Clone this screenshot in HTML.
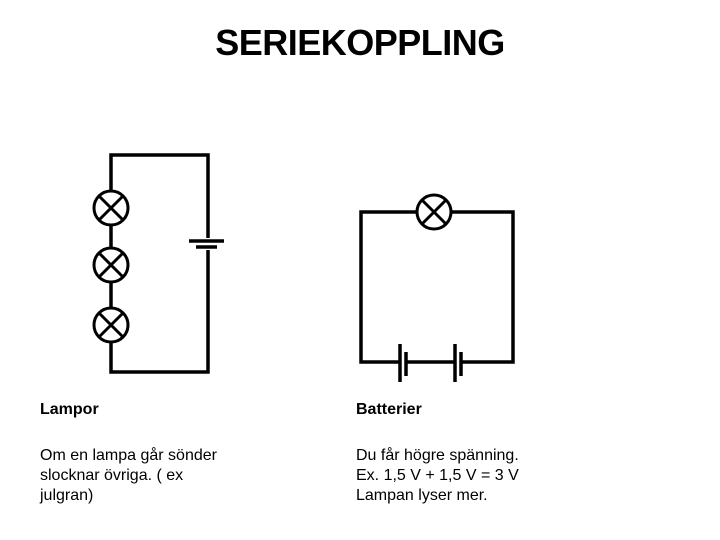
<!DOCTYPE html>
<html><head><style>
body{margin:0;width:720px;height:540px;background:#fff;position:relative;overflow:hidden;font-family:"Liberation Sans",sans-serif;}
.t{position:absolute;font-size:16px;line-height:20px;color:#000;}
</style></head><body>
<div style="position:absolute;left:0;width:720px;top:22px;text-align:center;font-size:36px;font-weight:bold;letter-spacing:-0.5px;">SERIEKOPPLING</div>
<svg width="720" height="540" style="position:absolute;left:0;top:0" fill="none" stroke="#000">
<g stroke-width="3.5">
<polyline points="111,191 111,155 208,155 208,238"/>
<polyline points="208,250 208,372 111,372 111,342"/>
<line x1="111" y1="225" x2="111" y2="248"/>
<line x1="111" y1="282" x2="111" y2="308"/>
<line x1="189" y1="241" x2="224" y2="241"/>
<line x1="196" y1="247" x2="217" y2="247"/>
<polyline points="417,212 361,212 361,362 400,362"/>
<polyline points="451,212 513,212 513,362 461,362"/>
<line x1="405" y1="362" x2="455" y2="362"/>
<line x1="400" y1="344" x2="400" y2="382"/>
<line x1="406" y1="352" x2="406" y2="376"/>
<line x1="455" y1="344" x2="455" y2="382"/>
<line x1="461" y1="352" x2="461" y2="376"/>
</g>
<g stroke-width="3">
<circle cx="111" cy="208" r="17"/><path d="M99 196L123 220M123 196L99 220"/>
<circle cx="111" cy="265" r="17"/><path d="M99 253L123 277M123 253L99 277"/>
<circle cx="111" cy="325" r="17"/><path d="M99 313L123 337M123 313L99 337"/>
<circle cx="434" cy="212" r="17"/><path d="M422 200L446 224M446 200L422 224"/>
</g>
</svg>
<div class="t" style="left:40px;top:400px;font-weight:bold">Lampor</div>
<div class="t" style="left:356px;top:400px;font-weight:bold">Batterier</div>
<div class="t" style="left:40px;top:446px">Om en lampa går sönder<br>slocknar övriga. ( ex<br>julgran)</div>
<div class="t" style="left:356px;top:446px">Du får högre spänning.<br>Ex. 1,5 V + 1,5 V = 3 V<br>Lampan lyser mer.</div>
</body></html>
